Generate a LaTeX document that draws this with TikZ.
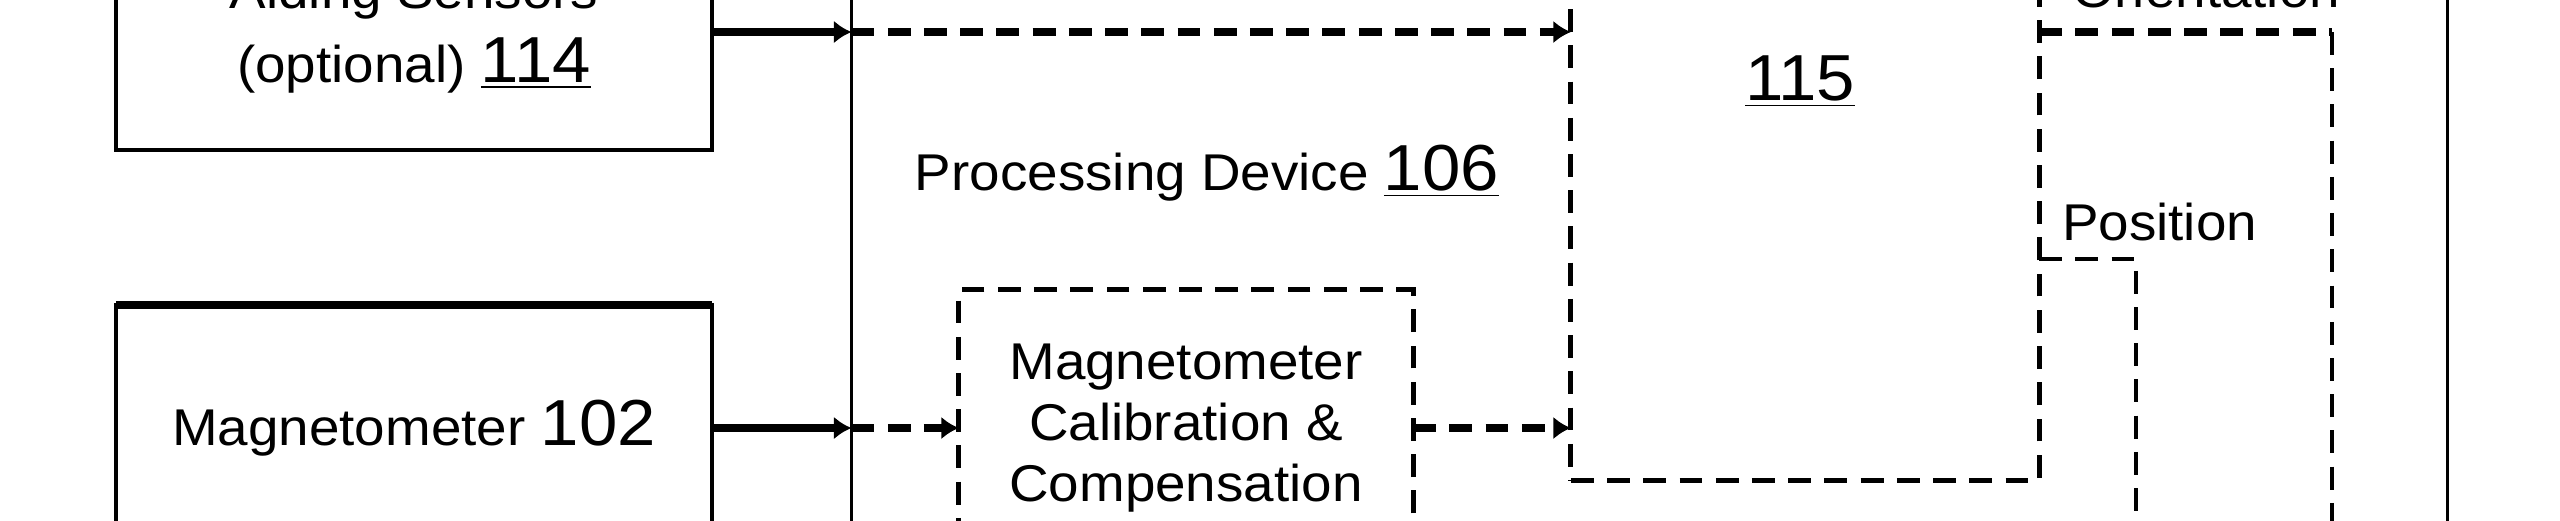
\documentclass[tikz,border=0pt]{standalone}
\usepackage{fontspec}
\setmainfont{Liberation Sans}[FakeStretch=1.06]
\usetikzlibrary{arrows.meta}
\newcommand{\refno}[1]{{\fontsize{18.5}{21}\selectfont\underline{#1}}}
\newcommand{\bigno}[1]{{\fontsize{18.5}{21}\selectfont #1}}
\begin{document}
\begin{tikzpicture}[
      x=0.01cm,
      y=-0.01cm,
      every node/.style={outer sep=0pt, inner sep=0pt, font=\fontsize{14.7}{17.4}\selectfont},
      box/.style={draw, line width=1pt, align=center},
      dbox/.style={draw, line width=1.4pt, dash pattern=on 6.5pt off 3.8pt, align=center},
      flow/.style={line width=2.3pt, -{Latex[length=5pt,width=6.5pt]}},
      dflow/.style={flow, dash pattern=on 6.5pt off 3.8pt},
      dline/.style={line width=1.4pt, dash pattern=on 6.5pt off 3.8pt}]
    \useasboundingbox (0,0) rectangle (2560,520);
    \clip (0,0) rectangle (2560,520);

    \node[box, minimum width=15.95cm, minimum height=8.5cm] (pd) at (1649.5,275) {};
    \node[box, minimum width=5.96cm, minimum height=2.36cm] (aid) at (414,32)
      {Aiding Sensors\\[3.5pt](optional) \refno{114}};
    \node[box, minimum width=5.96cm, minimum height=2.46cm] (mag) at (414,428)
      {Magnetometer \bigno{102}};
    \node[dbox, minimum width=4.54cm, minimum height=2.76cm] (cal) at (1186,428)
      {Magnetometer\\Calibration \&\\Compensation};
    \node[dbox, minimum width=4.68cm, minimum height=6cm] (fuse) at (1805,180) {};

    \node[anchor=base] (pdlbl) at (1207,190) {Processing Device \refno{106}};
    \node[anchor=base] (fuselbl) at (1800,100) {\refno{115}};
    \node[anchor=base west] (orilbl) at (2072,7) {Orientation};
    \node[anchor=base west] (poslbl) at (2062,240) {Position};

    \coordinate (ori) at (2332,560);
    \coordinate (oribend) at (ori |- aid.east);
    \coordinate (pos) at (2136,560);

    \draw[line width=2.3pt] (mag.north west) -- (mag.north east);

    \draw[flow] (aid.east) -- (aid.east -| pd.west);
    \draw[dflow] (aid.east -| pd.west) -- (aid.east -| fuse.west);
    \draw[flow] (mag.east) -- (mag.east -| pd.west);
    \draw[dflow] (mag.east -| pd.west) -- (cal.west);
    \draw[dflow] (cal.east) -- (cal.east -| fuse.west);
    \draw[dline, line width=2.3pt] (aid.east -| fuse.east) -- (oribend);
    \draw[dline] (oribend) -- (ori);
    \draw[dline] (fuse.east |- 0,259) -| (pos);

  \end{tikzpicture}
\end{document}
